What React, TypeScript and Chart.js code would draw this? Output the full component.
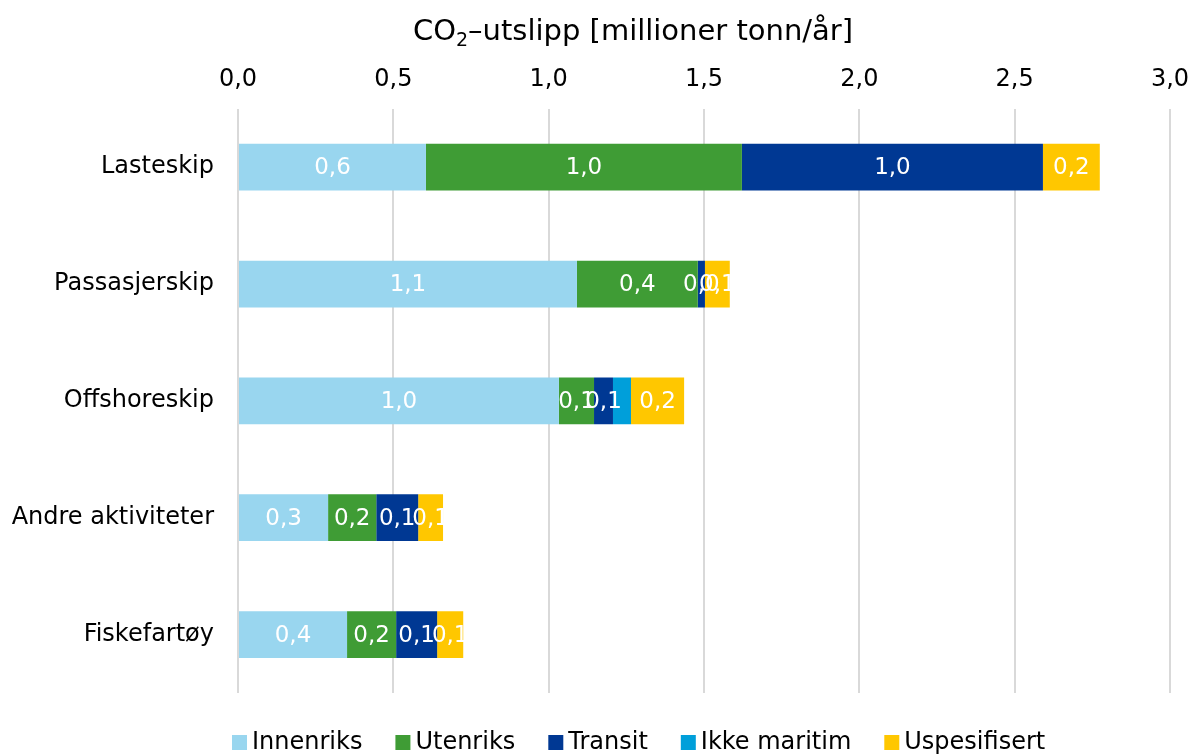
import React, { useEffect, useRef } from "react";
import { Chart, registerables } from "chart.js";

Chart.register(...registerables);

const categories = ["Lasteskip", "Passasjerskip", "Offshoreskip", "Andre aktiviteter", "Fiskefartøy"];
const innenriks = [0.605, 1.091, 1.033, 0.29, 0.351];
const utenriks = [1.017, 0.389, 0.113, 0.155, 0.158];
const transit = [0.969, 0.023, 0.061, 0.135, 0.132];
const ikkeMaritim = [0, 0, 0.058, 0, 0];
const uspesifisert = [0.183, 0.08, 0.171, 0.08, 0.084];
const xTicks = [0, 0.5, 1.0, 1.5, 2.0, 2.5, 3.0];
const titleParts = ["CO", "2", "–utslipp [millioner tonn/år]"];

const FONT = "'DejaVu Sans', Verdana, sans-serif";

const fmt = (v: number) => v.toFixed(1).replace(".", ",");

const labelPlugin = {
  id: "barLabels",
  afterDatasetsDraw(chart: any) {
    const ctx = chart.ctx;
    ctx.save();
    ctx.font = `23px ${FONT}`;
    ctx.fillStyle = "#ffffff";
    ctx.textAlign = "center";
    ctx.textBaseline = "middle";
    chart.data.datasets.forEach((ds: any, di: number) => {
      if (ds.noLabels) return;
      const meta = chart.getDatasetMeta(di);
      meta.data.forEach((el: any, i: number) => {
        const v = ds.data[i];
        if (!v) return;
        const p = el.getProps(["x", "base", "y"], true);
        ctx.fillText(fmt(v), (p.x + p.base) / 2, p.y + 1);
      });
    });
    ctx.restore();
  },
};

const titlePlugin = {
  id: "subTitle",
  afterDraw(chart: any) {
    const ctx = chart.ctx;
    ctx.save();
    ctx.fillStyle = "#000";
    ctx.textBaseline = "alphabetic";
    ctx.textAlign = "left";
    const big = `29px ${FONT}`;
    const small = `19px ${FONT}`;
    ctx.font = big;
    const w0 = ctx.measureText(titleParts[0]).width;
    const w2 = ctx.measureText(titleParts[2]).width;
    ctx.font = small;
    const w1 = ctx.measureText(titleParts[1]).width;
    const total = w0 + w1 + w2;
    let x = 633 - total / 2;
    const base = 40;
    ctx.font = big;
    ctx.fillText(titleParts[0], x, base);
    x += w0;
    ctx.font = small;
    ctx.fillText(titleParts[1], x, base + 6);
    x += w1;
    ctx.font = big;
    ctx.fillText(titleParts[2], x, base);
    ctx.restore();
  },
};

const legendPlugin = {
  id: "bottomLegend",
  afterDraw(chart: any) {
    const ctx = chart.ctx;
    ctx.save();
    ctx.font = `24px ${FONT}`;
    ctx.textBaseline = "middle";
    ctx.textAlign = "left";
    const y = 742;
    let x = 232;
    chart.data.datasets.forEach((ds: any) => {
      ctx.fillStyle = ds.backgroundColor;
      ctx.fillRect(x, y - 7, 15, 15);
      x += 15 + 5;
      ctx.fillStyle = "#000";
      ctx.fillText(ds.label, x, y + 1);
      x += ctx.measureText(ds.label).width + 33;
    });
    ctx.restore();
  },
};

export default function App() {
  const ref = useRef<HTMLCanvasElement>(null);
  useEffect(() => {
    document.body.style.margin = "0";
    const chart = new Chart(ref.current!, {
      type: "bar",
      data: {
        labels: categories,
        datasets: [
          { label: "Innenriks", data: innenriks, backgroundColor: "#99D6EF" },
          { label: "Utenriks", data: utenriks, backgroundColor: "#3F9C35" },
          { label: "Transit", data: transit, backgroundColor: "#003893" },
          { label: "Ikke maritim", data: ikkeMaritim, backgroundColor: "#009FDA", noLabels: true } as any,
          { label: "Uspesifisert", data: uspesifisert, backgroundColor: "#FFC700" },
        ],
      },
      options: {
        indexAxis: "y",
        animation: false,
        responsive: false,
        maintainAspectRatio: false,
        layout: { padding: { left: 0, right: 0, top: 50, bottom: 63 } },
        datasets: { bar: { barPercentage: 0.4, categoryPercentage: 1.0 } } as any,
        scales: {
          x: {
            position: "top",
            stacked: true,
            min: 0,
            max: 3,
            afterBuildTicks: (axis: any) => {
              axis.ticks = xTicks.map((v) => ({ value: v }));
            },
            afterFit: (axis: any) => {
              axis.paddingRight = 22;
            },
            ticks: {
              color: "#000",
              font: { family: FONT, size: 24 },
              padding: 15,
              callback: (v: any) => fmt(Number(v)),
            },
            grid: { color: "#d9d9d9", lineWidth: 2, drawTicks: false },
            border: { display: false },
          },
          y: {
            stacked: true,
            afterFit: (axis: any) => {
              axis.width = 238;
            },
            ticks: {
              color: "#000",
              font: { family: FONT, size: 24 },
              padding: 24,
            },
            grid: { display: false, drawTicks: false },
            border: { display: false },
          },
        },
        plugins: {
          legend: { display: false },
          tooltip: { enabled: false },
        },
      },
      plugins: [labelPlugin, titlePlugin, legendPlugin],
    });
    return () => chart.destroy();
  }, []);
  return (
    <div style={{ width: 1192, height: 756 }}>
      <canvas ref={ref} width={1192} height={756} style={{ display: "block" }} />
    </div>
  );
}
